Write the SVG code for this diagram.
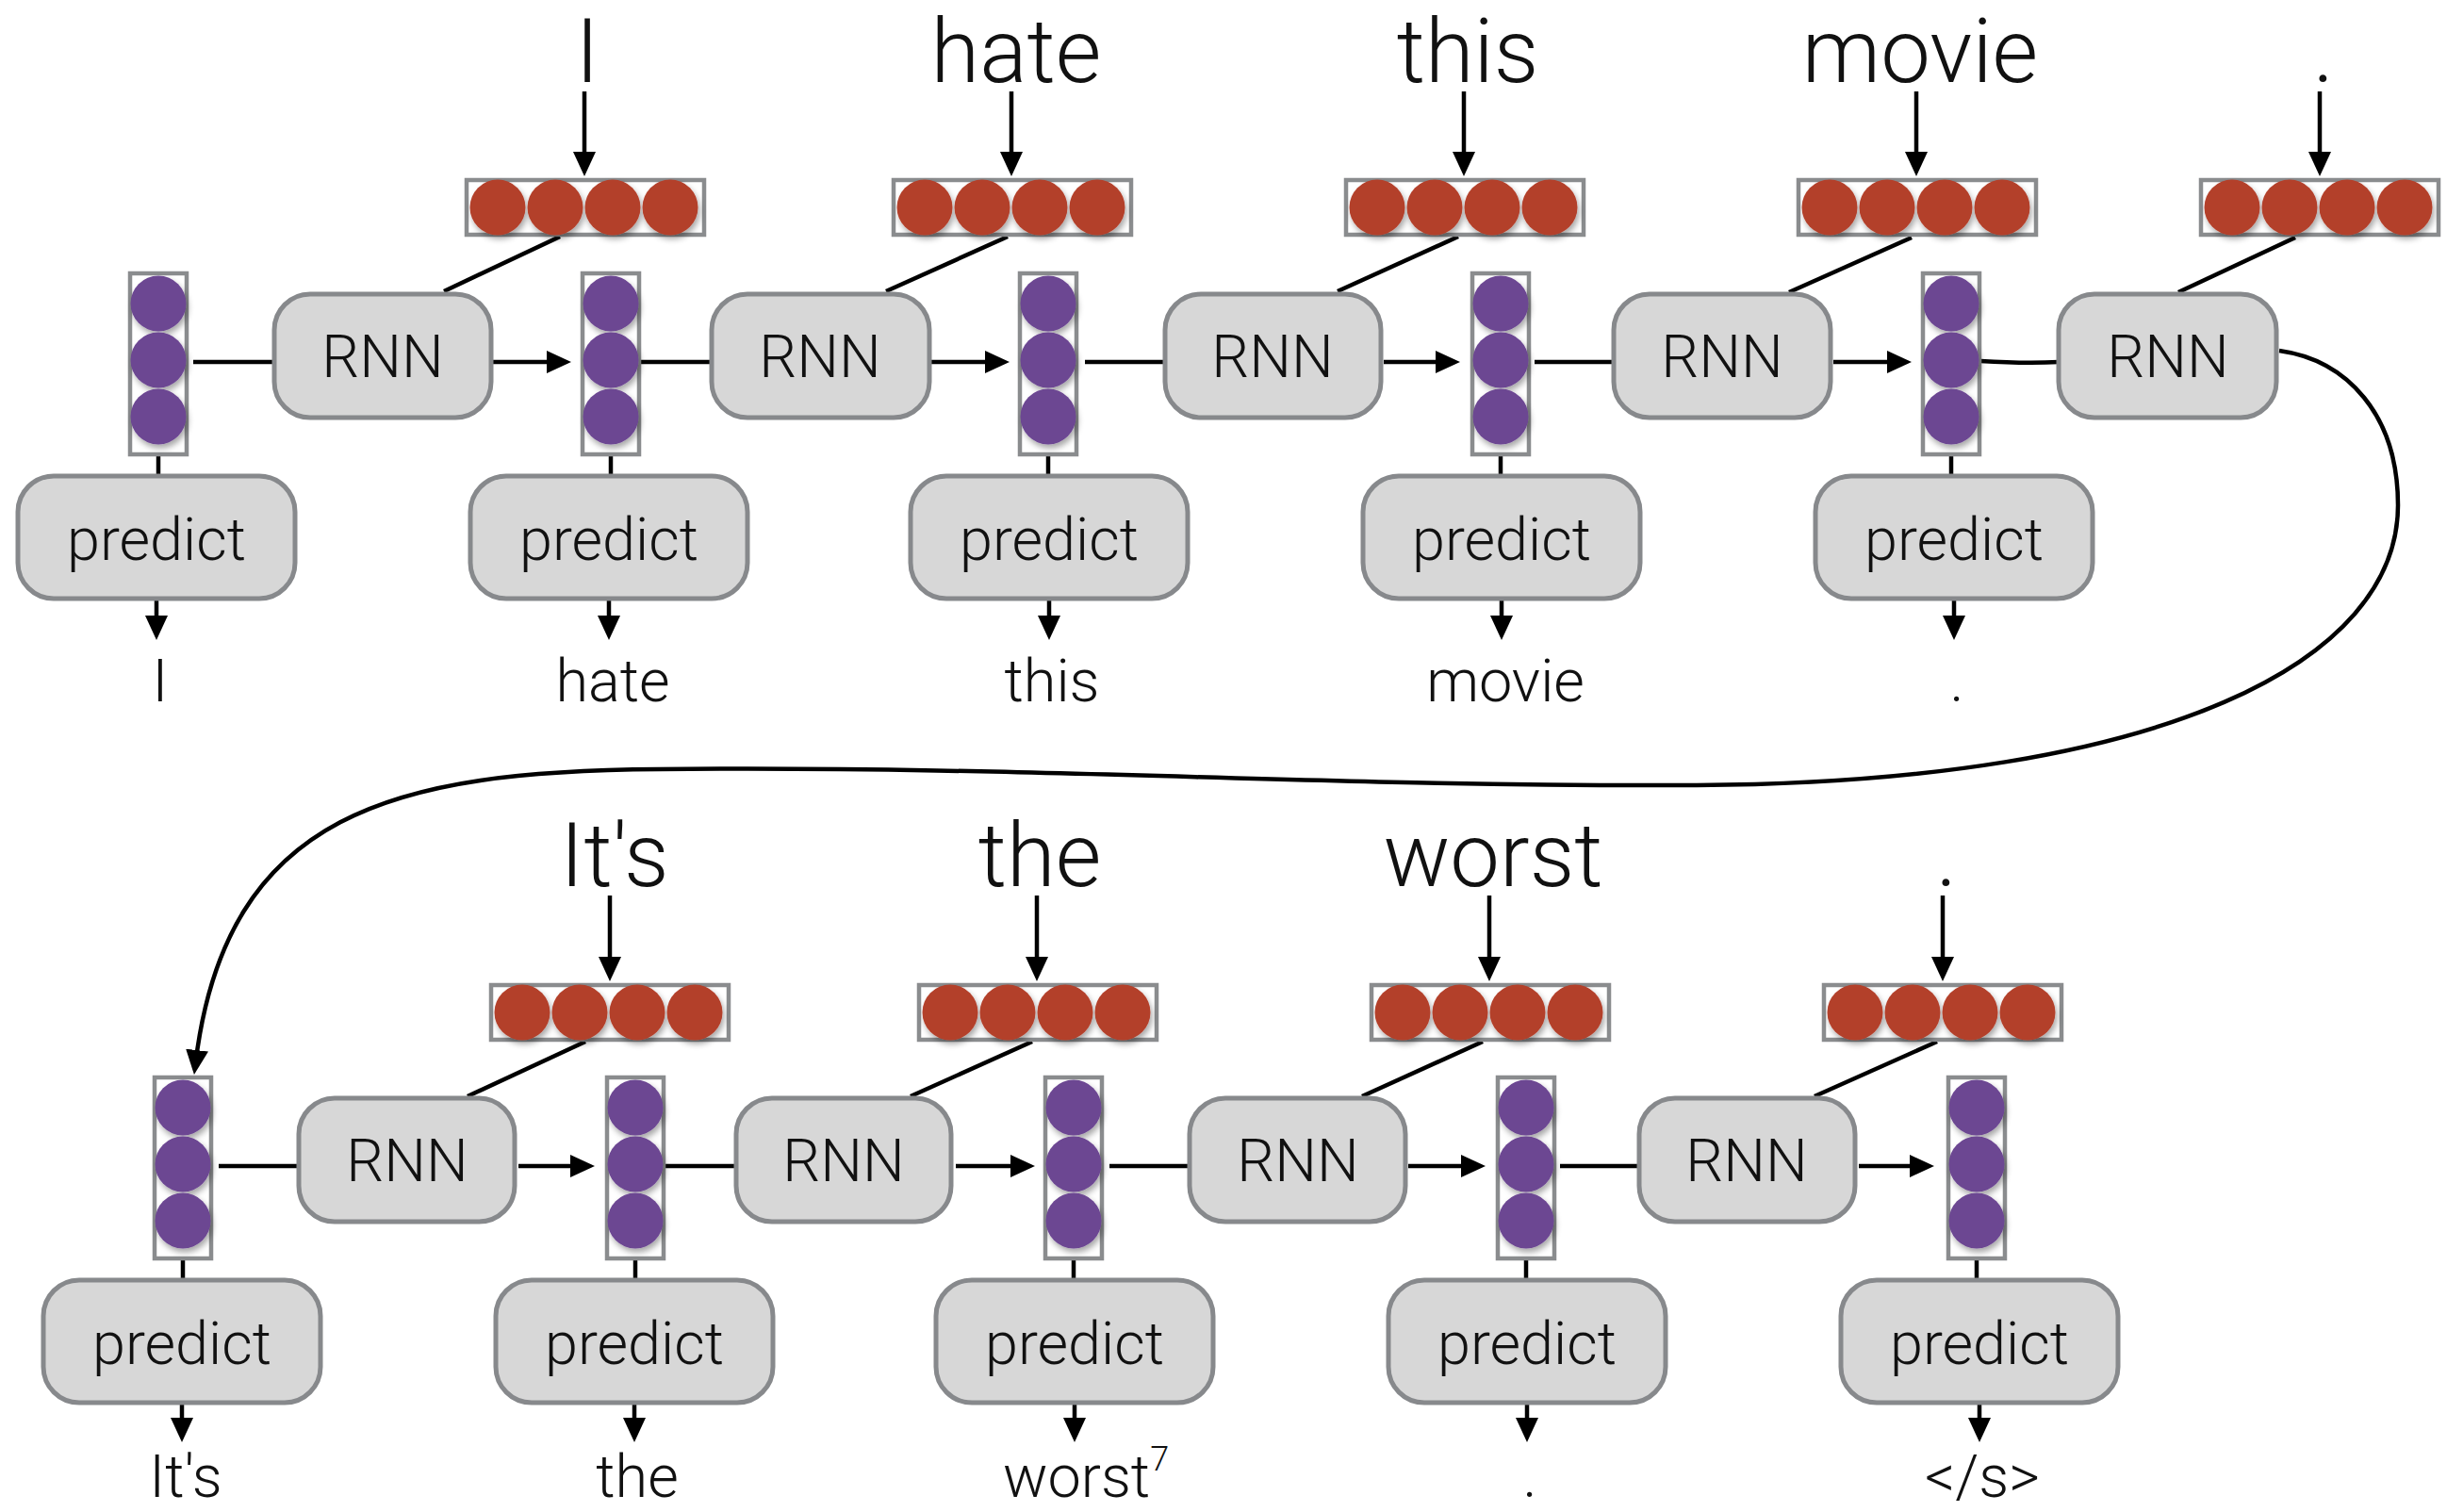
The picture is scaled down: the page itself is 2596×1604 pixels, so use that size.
<svg xmlns="http://www.w3.org/2000/svg" xmlns:xlink="http://www.w3.org/1999/xlink" width="2596" height="1604" viewBox="0 0 2596 1604">
<style>
.box{fill:#d7d7d7;stroke:#87898c;stroke-width:5}
.vbox{fill:#ffffff;stroke:#8a8c8e;stroke-width:4.5}
.red{fill:#b3402c}
.pur{fill:#6c4692}
.t{font-family:Roboto,"Liberation Sans",sans-serif;font-weight:300;fill:#111;text-anchor:middle}
.big{font-size:94px}
.mid{font-size:63px}
.ln{stroke:#000;stroke-width:4.5;fill:none}
.ar{stroke:#000;stroke-width:4.5;fill:none;marker-end:url(#ah)}
</style>
<defs>
<filter id="sh" x="-20%" y="-20%" width="140%" height="150%">
<feDropShadow dx="2" dy="4" stdDeviation="3" flood-color="#000" flood-opacity="0.35"/>
</filter>
<marker id="ah" viewBox="0 0 26 24" refX="14" refY="12" markerUnits="userSpaceOnUse" markerWidth="26" markerHeight="24" orient="auto">
<path d="M0,0 L26,12 L0,24 z" fill="#000"/>
</marker>
<g id="redvec">
<rect class="vbox" x="0" y="0" width="252" height="58"/>
<g filter="url(#sh)">
<circle class="red" cx="33" cy="29" r="29.5"/>
<circle class="red" cx="94" cy="29" r="29.5"/>
<circle class="red" cx="155" cy="29" r="29.5"/>
<circle class="red" cx="216" cy="29" r="29.5"/>
</g>
</g>
<g id="purvec">
<rect class="vbox" x="0" y="0" width="60" height="192"/>
<g filter="url(#sh)">
<circle class="pur" cx="30" cy="32" r="29.5"/>
<circle class="pur" cx="30" cy="92" r="29.5"/>
<circle class="pur" cx="30" cy="152" r="29.5"/>
</g>
</g>
</defs>
<rect x="0" y="0" width="2596" height="1604" fill="#ffffff"/>

<g id="connectors">
<!-- top row: word -> embedding -->
<path class="ar" d="M620 97 V175"/>
<path class="ar" d="M1073 97 V175"/>
<path class="ar" d="M1553 97 V175"/>
<path class="ar" d="M2033 97 V175"/>
<path class="ar" d="M2461 97 V175"/>
<!-- top row: embedding -> RNN -->
<path class="ln" d="M594 251 L471 309"/>
<path class="ln" d="M1069 251 L940 309"/>
<path class="ln" d="M1547 251 L1419 309"/>
<path class="ln" d="M2028 252 L1898 310"/>
<path class="ln" d="M2435 252 L2311 310"/>
<!-- top row: hidden -> RNN -> hidden -->
<path class="ln" d="M205 384 H291"/>
<path class="ar" d="M522 384 H594"/>
<path class="ln" d="M670 384 H755"/>
<path class="ar" d="M987 384 H1059"/>
<path class="ln" d="M1151 384 H1236"/>
<path class="ar" d="M1468 384 H1537"/>
<path class="ln" d="M1628 384 H1712"/>
<path class="ar" d="M1945 384 H2016"/>
<path class="ln" d="M2101 383 Q2150 386 2184 384"/>
<!-- top row: hidden -> predict -> output -->
<path class="ln" d="M168 482 V505"/>
<path class="ln" d="M648 482 V505"/>
<path class="ln" d="M1112 482 V505"/>
<path class="ln" d="M1592 482 V505"/>
<path class="ln" d="M2070 482 V505"/>
<path class="ar" d="M166 637 V667"/>
<path class="ar" d="M646 637 V667"/>
<path class="ar" d="M1113 637 V667"/>
<path class="ar" d="M1593 637 V667"/>
<path class="ar" d="M2073 637 V667"/>
<!-- long connection from last top RNN to first bottom hidden state -->
<path class="ar" d="M2418 372 C2490 382, 2544 440, 2544 536 C2544 700, 2300 830, 1800 833 C1400 835, 1100 812, 700 816 C420 818, 240 860, 207.4 1128"/>
<!-- bottom row: word -> embedding -->
<path class="ar" d="M647 950 V1029"/>
<path class="ar" d="M1100 950 V1029"/>
<path class="ar" d="M1580 950 V1029"/>
<path class="ar" d="M2061 950 V1029"/>
<!-- bottom row: embedding -> RNN -->
<path class="ln" d="M621 1105 L496 1163"/>
<path class="ln" d="M1095 1105 L966 1163"/>
<path class="ln" d="M1573 1105 L1445 1163"/>
<path class="ln" d="M2055 1105 L1925 1163"/>
<!-- bottom row: hidden chain -->
<path class="ln" d="M232 1237 H317"/>
<path class="ar" d="M550 1237 H619"/>
<path class="ln" d="M696 1237 H781"/>
<path class="ar" d="M1014 1237 H1086"/>
<path class="ln" d="M1177 1237 H1262"/>
<path class="ar" d="M1494 1237 H1564"/>
<path class="ln" d="M1655 1237 H1739"/>
<path class="ar" d="M1972 1237 H2040"/>
<!-- bottom row: hidden -> predict -> output -->
<path class="ln" d="M194 1335 V1358"/>
<path class="ln" d="M674 1335 V1358"/>
<path class="ln" d="M1139 1335 V1358"/>
<path class="ln" d="M1619 1335 V1358"/>
<path class="ln" d="M2097 1335 V1358"/>
<path class="ar" d="M193 1490 V1518"/>
<path class="ar" d="M673 1490 V1518"/>
<path class="ar" d="M1140 1490 V1518"/>
<path class="ar" d="M1620 1490 V1518"/>
<path class="ar" d="M2100 1490 V1518"/>
</g>

<!-- top row input words -->
<g id="in-I"><text class="t big" x="623" y="87">I</text></g>
<g id="in-hate"><text class="t big" x="1078" y="87">hate</text></g>
<g id="in-this"><text class="t big" x="1557" y="87">this</text></g>
<g id="in-movie"><text class="t big" x="2037" y="87">movie</text></g>
<g id="in-dot"><text class="t big" x="2465" y="87">.</text></g>

<!-- top row embeddings -->
<g id="emb1"><use xlink:href="#redvec" x="495" y="191"/></g>
<g id="emb2"><use xlink:href="#redvec" x="948" y="191"/></g>
<g id="emb3"><use xlink:href="#redvec" x="1428" y="191"/></g>
<g id="emb4"><use xlink:href="#redvec" x="1908" y="191"/></g>
<g id="emb5"><use xlink:href="#redvec" x="2335" y="191"/></g>

<!-- top row hidden states -->
<g id="h0"><use xlink:href="#purvec" x="138" y="290"/></g>
<g id="h1"><use xlink:href="#purvec" x="618" y="290"/></g>
<g id="h2"><use xlink:href="#purvec" x="1082" y="290"/></g>
<g id="h3"><use xlink:href="#purvec" x="1562" y="290"/></g>
<g id="h4"><use xlink:href="#purvec" x="2040" y="290"/></g>

<!-- top row RNN -->
<g id="rnn1"><rect class="box" x="291" y="312" width="230" height="131" rx="38"/><text class="t mid" x="406" y="400">RNN</text></g>
<g id="rnn2"><rect class="box" x="755" y="312" width="231" height="131" rx="38"/><text class="t mid" x="870" y="400">RNN</text></g>
<g id="rnn3"><rect class="box" x="1236" y="312" width="229" height="131" rx="38"/><text class="t mid" x="1350" y="400">RNN</text></g>
<g id="rnn4"><rect class="box" x="1712" y="312" width="230" height="131" rx="38"/><text class="t mid" x="1827" y="400">RNN</text></g>
<g id="rnn5"><rect class="box" x="2184" y="312" width="231" height="131" rx="38"/><text class="t mid" x="2300" y="400">RNN</text></g>

<!-- top row predict -->
<g id="pred1"><rect class="box" x="19" y="505" width="294" height="130" rx="38"/><text class="t mid" x="166" y="594">predict</text></g>
<g id="pred2"><rect class="box" x="499" y="505" width="294" height="130" rx="38"/><text class="t mid" x="646" y="594">predict</text></g>
<g id="pred3"><rect class="box" x="966" y="505" width="294" height="130" rx="38"/><text class="t mid" x="1113" y="594">predict</text></g>
<g id="pred4"><rect class="box" x="1446" y="505" width="294" height="130" rx="38"/><text class="t mid" x="1593" y="594">predict</text></g>
<g id="pred5"><rect class="box" x="1926" y="505" width="294" height="130" rx="38"/><text class="t mid" x="2073" y="594">predict</text></g>

<!-- top row outputs -->
<g id="out-I"><text class="t mid" x="170" y="744">I</text></g>
<g id="out-hate"><text class="t mid" x="650" y="744">hate</text></g>
<g id="out-this"><text class="t mid" x="1116" y="744">this</text></g>
<g id="out-movie"><text class="t mid" x="1597" y="744">movie</text></g>
<g id="out-dot"><text class="t mid" x="2076" y="744">.</text></g>

<!-- bottom row input words -->
<g id="in-its"><text class="t big" x="652" y="940">It's</text></g>
<g id="in-the"><text class="t big" x="1103" y="940">the</text></g>
<g id="in-worst"><text class="t big" x="1584" y="940">worst</text></g>
<g id="in-dot2"><text class="t big" x="2065" y="940">.</text></g>

<!-- bottom row embeddings -->
<g id="emb6"><use xlink:href="#redvec" x="521" y="1045"/></g>
<g id="emb7"><use xlink:href="#redvec" x="975" y="1045"/></g>
<g id="emb8"><use xlink:href="#redvec" x="1455" y="1045"/></g>
<g id="emb9"><use xlink:href="#redvec" x="1935" y="1045"/></g>

<!-- bottom row hidden states -->
<g id="h5"><use xlink:href="#purvec" x="164" y="1143"/></g>
<g id="h6"><use xlink:href="#purvec" x="644" y="1143"/></g>
<g id="h7"><use xlink:href="#purvec" x="1109" y="1143"/></g>
<g id="h8"><use xlink:href="#purvec" x="1589" y="1143"/></g>
<g id="h9"><use xlink:href="#purvec" x="2067" y="1143"/></g>

<!-- bottom row RNN -->
<g id="rnn6"><rect class="box" x="317" y="1165" width="229" height="131" rx="38"/><text class="t mid" x="432" y="1253">RNN</text></g>
<g id="rnn7"><rect class="box" x="781" y="1165" width="228" height="131" rx="38"/><text class="t mid" x="895" y="1253">RNN</text></g>
<g id="rnn8"><rect class="box" x="1262" y="1165" width="229" height="131" rx="38"/><text class="t mid" x="1377" y="1253">RNN</text></g>
<g id="rnn9"><rect class="box" x="1739" y="1165" width="229" height="131" rx="38"/><text class="t mid" x="1853" y="1253">RNN</text></g>

<!-- bottom row predict -->
<g id="pred6"><rect class="box" x="46" y="1358" width="294" height="130" rx="38"/><text class="t mid" x="193" y="1447">predict</text></g>
<g id="pred7"><rect class="box" x="526" y="1358" width="294" height="130" rx="38"/><text class="t mid" x="673" y="1447">predict</text></g>
<g id="pred8"><rect class="box" x="993" y="1358" width="294" height="130" rx="38"/><text class="t mid" x="1140" y="1447">predict</text></g>
<g id="pred9"><rect class="box" x="1473" y="1358" width="294" height="130" rx="38"/><text class="t mid" x="1620" y="1447">predict</text></g>
<g id="pred10"><rect class="box" x="1953" y="1358" width="294" height="130" rx="38"/><text class="t mid" x="2100" y="1447">predict</text></g>

<!-- bottom row outputs -->
<g id="out-its"><text class="t mid" x="197" y="1588">It's</text></g>
<g id="out-the"><text class="t mid" x="676" y="1588">the</text></g>
<g id="out-worst"><text class="t mid" x="1152" y="1588">worst<tspan font-size="36px" dy="-28">7</tspan></text></g>
<g id="out-dot3"><text class="t mid" x="1623" y="1588">.</text></g>
<g id="out-eos"><text class="t mid" x="2103" y="1588">&lt;/s&gt;</text></g>
</svg>
